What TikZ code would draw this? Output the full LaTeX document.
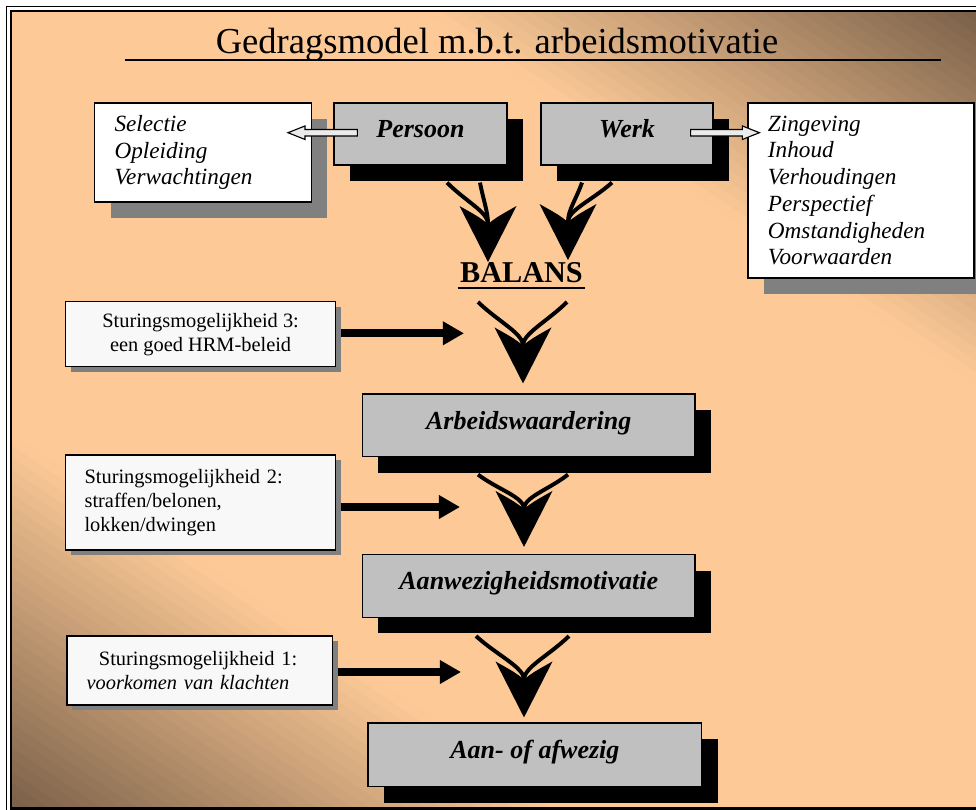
\documentclass[tikz,border=0pt]{standalone}
\usepackage{fontspec}
\setmainfont{Liberation Serif}
\usetikzlibrary{arrows.meta, calc, shadows}

\definecolor{peachbg}{HTML}{FDCA97}
\definecolor{brownbg}{HTML}{7A6049}
\definecolor{boxgrey}{HTML}{C0C0C0}
\definecolor{shadowgrey}{HTML}{808080}
\definecolor{notewhite}{HTML}{F8F8F8}

% two curved strokes running into one barbed head: #1 tip, #2 and #3 the stroke starts
\newcommand{\convarrow}[3]{%
  \coordinate (notch) at ($(#1)+(0,-38)$);
  \foreach \s in {#2,#3}
    \draw[stroke] (\s) .. controls ($(\s)!0.45!(notch)$) and ($(notch)+(0,-12)$) .. (notch);
  \fill ($(#1)+(-28.5,-56)$) -- (#1) -- ($(#1)+(28.5,-56)$)
    .. controls ($(#1)+(9,-45)$) .. (notch)
    .. controls ($(#1)+(-9,-45)$) .. ($(#1)+(-28.5,-56)$) -- cycle;
}
% flat outlined arrow, horizontal: #1 tail, #2 tip
\newcommand{\hollowarrow}[2]{%
  \draw[hollow] let \p1=(#1), \p2=(#2), \n1={ifthenelse(\x2>\x1,12.1,-12.1)} in
    (\x1,\y1+2.3pt) -- (\x2-\n1,\y1+2.3pt) -- (\x2-\n1,\y1+4.8pt) -- (\x2,\y1)
    -- (\x2-\n1,\y1-4.8pt) -- (\x2-\n1,\y1-2.3pt) -- (\x1,\y1-2.3pt) -- cycle;
}

\begin{document}
\begin{tikzpicture}[x=0.025cm, y=-0.025cm,
  listbox/.style={draw, line width=0.8pt, fill=white, align=left, inner xsep=0.5cm,
    font=\fontsize{16.5}{19}\selectfont\itshape,
    drop shadow={shadow xshift=0.4cm, shadow yshift=-0.4cm, opacity=1, fill=shadowgrey}},
  mainbox/.style={draw, line width=0.8pt, fill=boxgrey, inner sep=0pt,
    font=\fontsize{18.5}{22}\selectfont\bfseries\itshape, text height=12.5pt, text depth=7pt,
    drop shadow={shadow xshift=0.4cm, shadow yshift=-0.4cm, opacity=1, fill=black}},
  notebox/.style={draw, line width=0.8pt, fill=notewhite, inner ysep=0pt, inner xsep=0.475cm,
    font=\fontsize{14.5}{17}\selectfont,
    drop shadow={shadow xshift=0.13cm, shadow yshift=-0.12cm, opacity=1, fill=shadowgrey}},
  stroke/.style={line width=2.8pt},
  push/.style={line width=5.9pt, -{Triangle[length=15pt, width=16pt]}},
  hollow/.style={draw, line width=0.8pt, fill=white!92!black}
]
\useasboundingbox (0,0) rectangle (976,810);
\fill[white] (0,0) rectangle (976,810);

% background
\begin{scope}
  \clip (11,11) rectangle (990,808.5);
  \begin{scope}[shift={(488,405)}, rotate=-34]
    \foreach \v in {-670,-660,...,660} {
      \pgfmathsetmacro\t{min(max((abs(\v+5)-290)/310,0),1)*100}
      \fill[brownbg!\t!peachbg] (-900,\v) rectangle (900,\v+11);
    }
  \end{scope}
\end{scope}
\draw[line width=0.9pt] (6.5,830) |- (990,6.5);
\draw[line width=1.9pt] (11,11) rectangle (990,808.5);

% title
\node[font=\fontsize{26}{30}\selectfont, anchor=base] (title) at (497,53.3) {Gedragsmodel m.b.t. arbeidsmotivatie};
\draw[line width=1.4pt] (124.5,60) -- (941,60);

% top row
\node[listbox, text width=4.42cm, minimum height=2.475cm] (sel) at (203,152.5) {Selectie\\Opleiding\\Verwachtingen};
\node[listbox, text width=4.65cm, minimum height=4.375cm] (zing) at (861,190.5) {Zingeving\\Inhoud\\Verhoudingen\\Perspectief\\Omstandigheden\\Voorwaarden};
\node[mainbox, minimum width=4.325cm, minimum height=1.55cm] (pers) at (420.5,134) {Persoon};
\node[mainbox, minimum width=4.3cm, minimum height=1.55cm] (werk) at (627,134) {Werk};

\coordinate (pt) at ($(pers.west)+(24,-1.3)$);
\coordinate (wt) at ($(werk.east)+(-23,-1.3)$);
\hollowarrow{pt}{$(sel.east |- pt)+(-24,0)$}
\hollowarrow{wt}{$(zing.west |- wt)+(12,0)$}

% balans
\node[font=\fontsize{21.5}{25}\selectfont\bfseries, inner sep=0pt] (balans) at (521.5,273) {BALANS};
\draw[line width=1.8pt] ($(balans.south west)+(-2,4.5)$) -- ($(balans.south east)+(2,4.5)$);

% chain of boxes
\node[mainbox, minimum width=8.3125cm, minimum height=1.5675cm] (arb) at (528.75,425.35) {Arbeidswaardering};
\node[mainbox, minimum width=8.3125cm, minimum height=1.5675cm] (aanw) at (528.75,585.85) {Aanwezigheidsmotivatie};
\node[mainbox, minimum width=8.345cm, minimum height=1.5925cm] (aan) at (534.9,754.85) {Aan- of afwezig};

% steering options
\node[notebox, align=center, minimum width=6.75cm, minimum height=1.625cm] (st3) at (200.6,334.3) {Sturingsmogelijkheid 3:\\een goed HRM-beleid};
\node[notebox, align=left, text width=5.8cm, minimum height=2.375cm] (st2) at (200.6,502.5) {Sturingsmogelijkheid 2:\\straffen/belonen,\\lokken/dwingen};
\node[notebox, align=left, inner xsep=0.49cm, text width=5.66cm, minimum height=1.725cm] (st1) at (199.8,670.5) {\hspace*{8.8pt}Sturingsmogelijkheid 1:\\\textit{voorkomen van klachten}};

% converging arrows
\coordinate (tb1) at ($(balans)+(-33.5,-11)$);
\coordinate (tb2) at ($(balans)+(46.5,-13)$);
\coordinate (ta) at ($(arb.north)+(-5.75,-10)$);
\coordinate (tw) at ($(aanw.north)+(-4.75,-7)$);
\coordinate (tf) at ($(aan.north)+(-10.9,-5)$);

\coordinate (p1) at ($(pers.south)+(26.5,17)$);
\coordinate (p2) at ($(pers.south)+(59.5,17)$);
\coordinate (w1) at ($(werk.south)+(-45,17)$);
\coordinate (w2) at ($(werk.south)+(-15,17)$);
\coordinate (b1) at ($(balans)+(-43.5,29)$);
\coordinate (b2) at ($(balans)+(45.5,29)$);
\coordinate (a1) at ($(arb.south)+(-50.75,17.3)$);
\coordinate (a2) at ($(arb.south)+(39.25,17.3)$);
\coordinate (m1) at ($(aanw.south)+(-52.75,18.3)$);
\coordinate (m2) at ($(aanw.south)+(40.25,18.3)$);

\convarrow{tb1}{p1}{p2}
\convarrow{tb2}{w1}{w2}
\convarrow{ta}{b1}{b2}
\convarrow{tw}{a1}{a2}
\convarrow{tf}{m1}{m2}

\draw[push] ($(st3.east)+(5,-1)$) -- ($(st3.east -| ta)+(-59,-1)$);
\draw[push] ($(st2.east)+(5,4.5)$) -- ($(st2.east -| tw)+(-64,4.5)$);
\draw[push] ($(st1.east)+(5,1.5)$) -- ($(st1.east -| tf)+(-63,1.5)$);
\end{tikzpicture}
\end{document}
